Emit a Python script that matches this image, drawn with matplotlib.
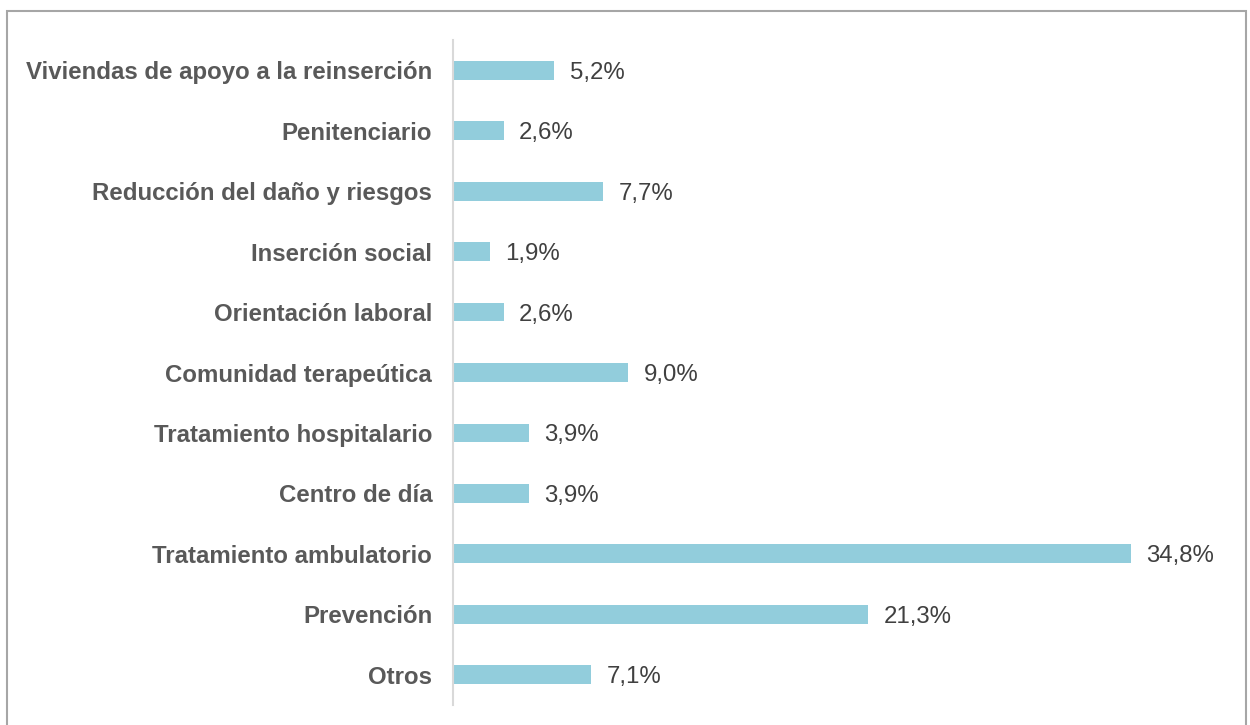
import matplotlib
matplotlib.use('Agg')
import matplotlib.pyplot as plt
from matplotlib.patches import Rectangle

categories = ['Viviendas de apoyo a la reinserción', 'Penitenciario',
              'Reducción del daño y riesgos', 'Inserción social',
              'Orientación laboral', 'Comunidad terapeútica',
              'Tratamiento hospitalario', 'Centro de día',
              'Tratamiento ambulatorio', 'Prevención', 'Otros']
values = [5.2, 2.6, 7.7, 1.9, 2.6, 9.0, 3.9, 3.9, 34.8, 21.3, 7.1]

plt.rcParams['font.family'] = ['Liberation Sans', 'DejaVu Sans']

fig = plt.figure(figsize=(12.5, 7.25), dpi=100)
ax = fig.add_axes([0.3624, 0.0276, 0.6233, 0.9172])

ypos = list(range(len(categories)))[::-1]
ax.barh(ypos, values, height=0.31, color='#92CDDC')
for y, v in zip(ypos, values):
    ax.text(v + 0.8, y, f'{v:.1f}%'.replace('.', ','), va='center_baseline', ha='left',
            fontsize=17.3, color='#404040')

ax.set_xlim(0, 40)
ax.set_ylim(-0.5, len(categories) - 0.5)
ax.set_yticks(ypos)
ax.set_yticklabels(categories, fontsize=17.3, fontweight='bold', color='#595959',
                   va='center_baseline')
ax.tick_params(axis='y', length=0, pad=15)
ax.set_xticks([])
for s in ['top', 'right', 'bottom']:
    ax.spines[s].set_visible(False)
ax.spines['left'].set_color('#D9D9D9')
ax.spines['left'].set_linewidth(1.5)

fig.patches.append(Rectangle((7 / 1250, -0.01), 1239 / 1250, 1 - 11 / 725 + 0.01,
                             transform=fig.transFigure, fill=False,
                             edgecolor='#A6A6A6', linewidth=1.5))

fig.savefig('out.png', dpi=100)
